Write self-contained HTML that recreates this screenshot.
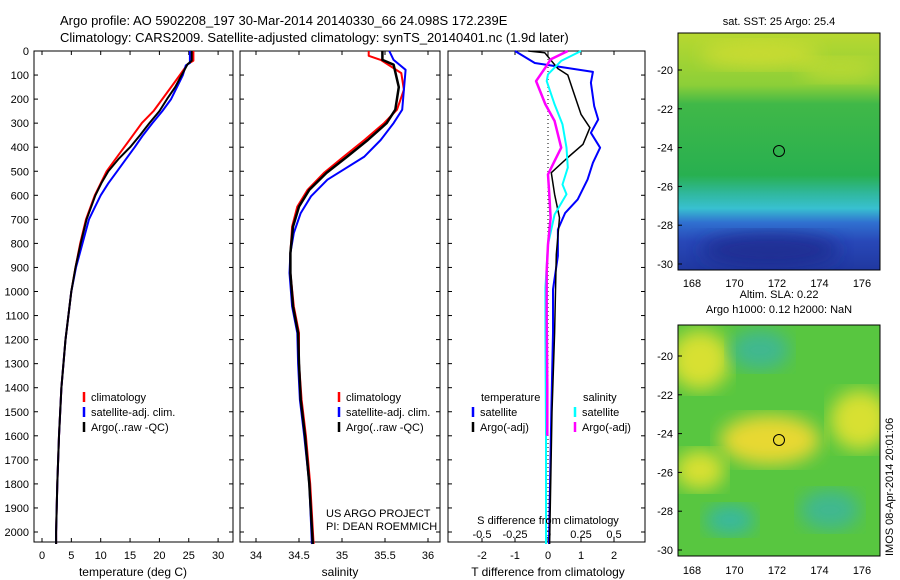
<!DOCTYPE html>
<html><head><meta charset="utf-8"><style>
body{margin:0;background:#fff;}
svg{display:block;font-family:"Liberation Sans",sans-serif;}
</style></head><body>
<svg id="c" width="900" height="580" viewBox="0 0 900 580">
<defs>
<linearGradient id="sstg" x1="0" y1="0" x2="0" y2="1">
<stop offset="0" stop-color="#b8d830"/><stop offset="0.22" stop-color="#8ccf38"/><stop offset="0.3" stop-color="#40b848"/>
<stop offset="0.6" stop-color="#28b050"/><stop offset="0.68" stop-color="#30b8a0"/><stop offset="0.74" stop-color="#38c0d0"/>
<stop offset="0.8" stop-color="#3070d0"/><stop offset="0.88" stop-color="#2848b8"/><stop offset="1" stop-color="#2038a0"/>
</linearGradient>
<filter id="bl"><feGaussianBlur stdDeviation="9"/></filter>
<clipPath id="m1c"><rect x="678" y="33" width="202" height="237"/></clipPath>
<clipPath id="m2c"><rect x="678" y="325" width="202" height="231"/></clipPath>
</defs>
<text x="60" y="25" font-size="13">Argo profile: AO 5902208_197 30-Mar-2014 20140330_66 24.098S 172.239E</text>
<text x="60" y="42" font-size="13">Climatology: CARS2009. Satellite-adjusted climatology: synTS_20140401.nc (1.9d later)</text>
<g id="p1"></g>
<g id="p2"></g>
<g id="p3"></g>
<g>
<g clip-path="url(#m1c)">
<rect x="678" y="33" width="202" height="237" fill="url(#sstg)"/>
<ellipse cx="760" cy="55" rx="60" ry="14" fill="#e0e030" opacity="0.6" filter="url(#bl)"/>
<ellipse cx="840" cy="70" rx="40" ry="12" fill="#d8e030" opacity="0.5" filter="url(#bl)"/>
<ellipse cx="770" cy="250" rx="70" ry="18" fill="#1a2888" opacity="0.7" filter="url(#bl)"/>
</g>
<rect x="678" y="33" width="202" height="237" fill="none" stroke="#000"/>
<circle cx="779" cy="151" r="5.5" fill="none" stroke="#000"/>
<text x="779" y="25" font-size="11" text-anchor="middle">sat. SST: 25 Argo: 25.4</text>
</g>
<g>
<g clip-path="url(#m2c)">
<rect x="678" y="325" width="202" height="231" fill="#58c640"/>
<ellipse cx="700" cy="360" rx="30" ry="30" fill="#d8e030" filter="url(#bl)"/>
<ellipse cx="770" cy="440" rx="50" ry="25" fill="#e8d830" filter="url(#bl)"/>
<ellipse cx="860" cy="420" rx="30" ry="30" fill="#d8e030" filter="url(#bl)"/>
<ellipse cx="700" cy="470" rx="25" ry="20" fill="#d8e030" filter="url(#bl)"/>
<ellipse cx="760" cy="350" rx="30" ry="20" fill="#40b890" filter="url(#bl)"/>
<ellipse cx="730" cy="520" rx="25" ry="15" fill="#38b8a0" filter="url(#bl)"/>
<ellipse cx="830" cy="510" rx="30" ry="20" fill="#40b890" filter="url(#bl)"/>
</g>
<rect x="678" y="325" width="202" height="231" fill="none" stroke="#000"/>
<circle cx="779" cy="440" r="5.5" fill="none" stroke="#000"/>
<text x="779" y="298" font-size="11" text-anchor="middle">Altim. SLA: 0.22</text>
<text x="779" y="313" font-size="11" text-anchor="middle">Argo h1000: 0.12 h2000: NaN</text>
</g>
<text transform="translate(893,556) rotate(-90)" font-size="11">IMOS 08-Apr-2014 20:01:06</text>
<text x="326" y="517" font-size="11">US ARGO PROJECT</text>
<text x="326" y="530" font-size="11">PI: DEAN ROEMMICH</text>
</svg>
<script>
const depthTicks=[0,100,200,300,400,500,600,700,800,900,1000,1100,1200,1300,1400,1500,1600,1700,1800,1900,2000];
const tTicks=[0,5,10,15,20,25,30];
const sTicks=[34,34.5,35,35.5,36];
const dTicks=[-2,-1,0,1,2];
const dTickLabels=['-2','-1','0','1','2'];
const sdTicks=[-0.5,-0.25,0,0.25,0.5];
const sdTickLabels=['-0.5','-0.25','0','0.25','0.5'];
// Temperature profiles
const tClimD=[0,40,55,100,150,200,250,300,350,400,450,500,550,600,700,800,900,1000,1200,1400,1600,1800,2000,2050];
const tClimV=[25.8,25.8,24.8,23.5,22,20.5,19,17,15.5,14,12.5,11,10,9,7.5,6.5,5.7,5.0,4.0,3.3,2.9,2.6,2.4,2.4];
const tArgoD=[0,40,55,100,150,200,250,300,350,400,450,500,550,600,700,800,900,1000,1200,1400,1600,1800,2000,2050];
const tArgoV=[25.5,25.5,24.8,23.8,22.7,21.3,20,18.3,16.7,15,13,11.3,10.1,9.1,7.6,6.6,5.7,5.0,4.0,3.3,2.9,2.6,2.4,2.4];
const tSatD=[0,50,60,100,150,200,250,300,350,400,450,500,550,600,650,700,800,900,1000,1200,1400,1600,1800,2000,2050];
const tSatV=[25.2,25.2,24.5,24,23,22,20.5,18.8,17.2,15.8,14.3,12.8,11.3,10,9,8,6.9,5.8,5.0,4.0,3.3,2.9,2.6,2.4,2.4];
// Salinity profiles
const sClimD=[0,20,37,92,161,244,300,370,439,507,577,647,730,840,923,1062,1172,1300,1450,1600,1800,2050];
const sClimV=[35.31,35.31,35.45,35.69,35.72,35.64,35.49,35.26,35.02,34.79,34.6,34.48,34.42,34.4,34.4,34.44,34.5,34.5,34.53,34.58,34.63,34.67];
const sArgoD=[0,37,57,150,244,300,370,439,507,577,647,730,840,923,1062,1172,1300,1450,1600,1800,2050];
const sArgoV=[35.47,35.47,35.6,35.66,35.62,35.52,35.3,35.06,34.82,34.62,34.5,34.43,34.4,34.4,34.43,34.49,34.5,34.52,34.57,34.62,34.66];
const sSatD=[0,37,78,161,244,300,370,439,535,604,674,757,840,923,1062,1172,1300,1450,1600,1800,2050];
const sSatV=[35.55,35.6,35.74,35.72,35.7,35.6,35.45,35.26,34.83,34.64,34.52,34.44,34.4,34.39,34.42,34.48,34.49,34.51,34.56,34.62,34.65];
// Differences
const dTSatD=[0,50,87,132,229,285,340,402,465,534,617,673,742,852,991,1172,1500,2050];
const dTSatV=[-1.0,-0.4,1.36,1.3,1.4,1.52,1.3,1.58,1.36,1.2,0.9,0.52,0.3,0.3,0.15,0.15,0.1,0.03];
const dTArgoD=[0,7,73,100,166,263,319,388,443,506,596,693,846,1172,1500,2050];
const dTArgoV=[-0.6,-0.1,0.3,0.6,0.76,1.0,1.27,1.06,0.6,0.1,0.2,0.35,0.25,0.2,0.12,0.05];
const dSSatD=[0,41,97,125,222,305,402,485,555,596,680,804,984,1172,1600,2050];
const dSSatV=[0.25,0.1,0,-0.01,0.05,0.11,0.14,0.15,0.11,0.14,0.05,0,-0.02,-0.02,-0.015,-0.015];
const dSArgoD=[0,35,69,125,222,291,402,457,513,596,693,804,915,1100,1400,1600];
const dSArgoV=[0.15,0.02,-0.02,-0.09,-0.02,0.05,0.1,0.05,0,0.01,0.02,0,-0.01,-0.01,-0.005,-0.005];

const NS='http://www.w3.org/2000/svg';
function el(tag,attrs,parent){const e=document.createElementNS(NS,tag);for(const k in attrs)e.setAttribute(k,attrs[k]);parent.appendChild(e);return e;}
const yD=d=>51+d*0.2405;
function panel(g,x0,x1,xs,ticks,labels,name,topTicks){
  const fr=el('rect',{x:x0,y:51,width:x1-x0,height:491,fill:'none',stroke:'#000'},g);
  
  
  depthTicks.forEach(d=>{const y=yD(d);
    el('line',{x1:x0,x2:x0+4,y1:y,y2:y,stroke:'#000'},g);
    el('line',{x1:x1-4,x2:x1,y1:y,y2:y,stroke:'#000'},g);});
  ticks.forEach((t,i)=>{const x=xs(t);
    el('line',{x1:x,x2:x,y1:542,y2:538,stroke:'#000'},g);
    if(!topTicks) el('line',{x1:x,x2:x,y1:51,y2:55,stroke:'#000'},g);
    const tx=el('text',{x:x,y:559,'font-size':11,'text-anchor':'middle'},g);
    tx.textContent=labels[i];
    
    });
}
function line(g,D,V,xs,color,w,name){
  const pts=D.map((d,i)=>xs(V[i]).toFixed(1)+','+yD(d).toFixed(1)).join(' ');
  const p=el('polyline',{points:pts,fill:'none',stroke:color,'stroke-width':w,'stroke-linejoin':'round'},g);
  
  
}
function legend(g,x,y,color,label,name){
  el('line',{x1:x,x2:x,y1:y-9,y2:y+1,stroke:color,'stroke-width':2.5},g);
  const t=el('text',{x:x+7,y:y,'font-size':11},g);t.textContent=label;
  
  
}
// y axis labels
const root=document.getElementById('c');
depthTicks.forEach(d=>{const t=el('text',{x:29,y:yD(d)+4,'font-size':11,'text-anchor':'end'},root);t.textContent=d;
  
  });
// Panel 1
const p1=document.getElementById('p1');
const xT=v=>42+v*5.87;
panel(p1,34,233,xT,tTicks,tTicks.map(String),'temperature-panel');
line(p1,tClimD,tClimV,xT,'#f00',2,'temperature-climatology-line');
line(p1,tSatD,tSatV,xT,'#00f',2,'temperature-satellite-line');
line(p1,tArgoD,tArgoV,xT,'#000',2,'temperature-argo-line');
legend(p1,84,401,'#f00','climatology','legend-climatology');
legend(p1,84,416,'#00f','satellite-adj. clim.','legend-satellite');
legend(p1,84,431,'#000','Argo(..raw -QC)','legend-argo');
let t=el('text',{x:133,y:576,'font-size':12,'text-anchor':'middle'},p1);t.textContent='temperature (deg C)';


// Panel 2
const p2=document.getElementById('p2');
const xS=v=>256+(v-34)*86;
panel(p2,240,440,xS,sTicks,sTicks.map(String),'salinity-panel');
line(p2,sClimD,sClimV,xS,'#f00',2,'salinity-climatology-line');
line(p2,sSatD,sSatV,xS,'#00f',2,'salinity-satellite-line');
line(p2,sArgoD,sArgoV,xS,'#000',2.5,'salinity-argo-line');
legend(p2,339,401,'#f00','climatology','legend-climatology-2');
legend(p2,339,416,'#00f','satellite-adj. clim.','legend-satellite-2');
legend(p2,339,431,'#000','Argo(..raw -QC)','legend-argo-2');
t=el('text',{x:340,y:576,'font-size':12,'text-anchor':'middle'},p2);t.textContent='salinity';


// Panel 3
const p3=document.getElementById('p3');
const xDT=v=>548+v*33, xDS=v=>548+v*132;
panel(p3,448,645,xDT,dTicks,dTickLabels,'difference-panel',true);
sdTicks.forEach((s,i)=>{const x=xDS(s);el('line',{x1:x,x2:x,y1:51,y2:55,stroke:'#000'},p3);
  const tx=el('text',{x:x,y:538,'font-size':11,'text-anchor':'middle'},p3);tx.textContent=sdTickLabels[i];
  
  });
el('line',{x1:548,x2:548,y1:51,y2:542,stroke:'#000','stroke-dasharray':'1,3'},p3);
line(p3,dTSatD,dTSatV,xDT,'#00f',2,'t-diff-satellite-line');
line(p3,dTArgoD,dTArgoV,xDT,'#000',1.5,'t-diff-argo-line');
line(p3,dSSatD,dSSatV,xDS,'#0ff',2,'s-diff-satellite-line');
line(p3,dSArgoD,dSArgoV,xDS,'#f0f',2.5,'s-diff-argo-line');
t=el('text',{x:481,y:401,'font-size':11},p3);t.textContent='temperature';


t=el('text',{x:583,y:401,'font-size':11},p3);t.textContent='salinity';


legend(p3,473,416,'#00f','satellite','legend-t-satellite');
legend(p3,473,431,'#000','Argo(-adj)','legend-t-argo');
legend(p3,575,416,'#0ff','satellite','legend-s-satellite');
legend(p3,575,431,'#f0f','Argo(-adj)','legend-s-argo');
t=el('text',{x:548,y:524,'font-size':11,'text-anchor':'middle'},p3);t.textContent='S difference from climatology';


t=el('text',{x:548,y:576,'font-size':12,'text-anchor':'middle'},p3);t.textContent='T difference from climatology';


// Map axes
const lats=[-20,-22,-24,-26,-28,-30];
const lons=[168,170,172,174,176];
function mapAxes(top,y20,name){
  const yl=v=>y20+(-20-v)*19.4, xl=v=>692+(v-168)*21.25;
  lats.forEach(v=>{const y=yl(v);el('line',{x1:678,x2:682,y1:y,y2:y,stroke:'#000'},root);
    const tx=el('text',{x:673,y:y+4,'font-size':11,'text-anchor':'end'},root);tx.textContent=v;
    
    });
  lons.forEach(v=>{const x=xl(v);
    const tx=el('text',{x:x,y:top,'font-size':11,'text-anchor':'middle'},root);tx.textContent=v;
    
    });
}
mapAxes(287,70,'sst-map');
mapAxes(574,356,'sla-map');
</script>
</body></html>
